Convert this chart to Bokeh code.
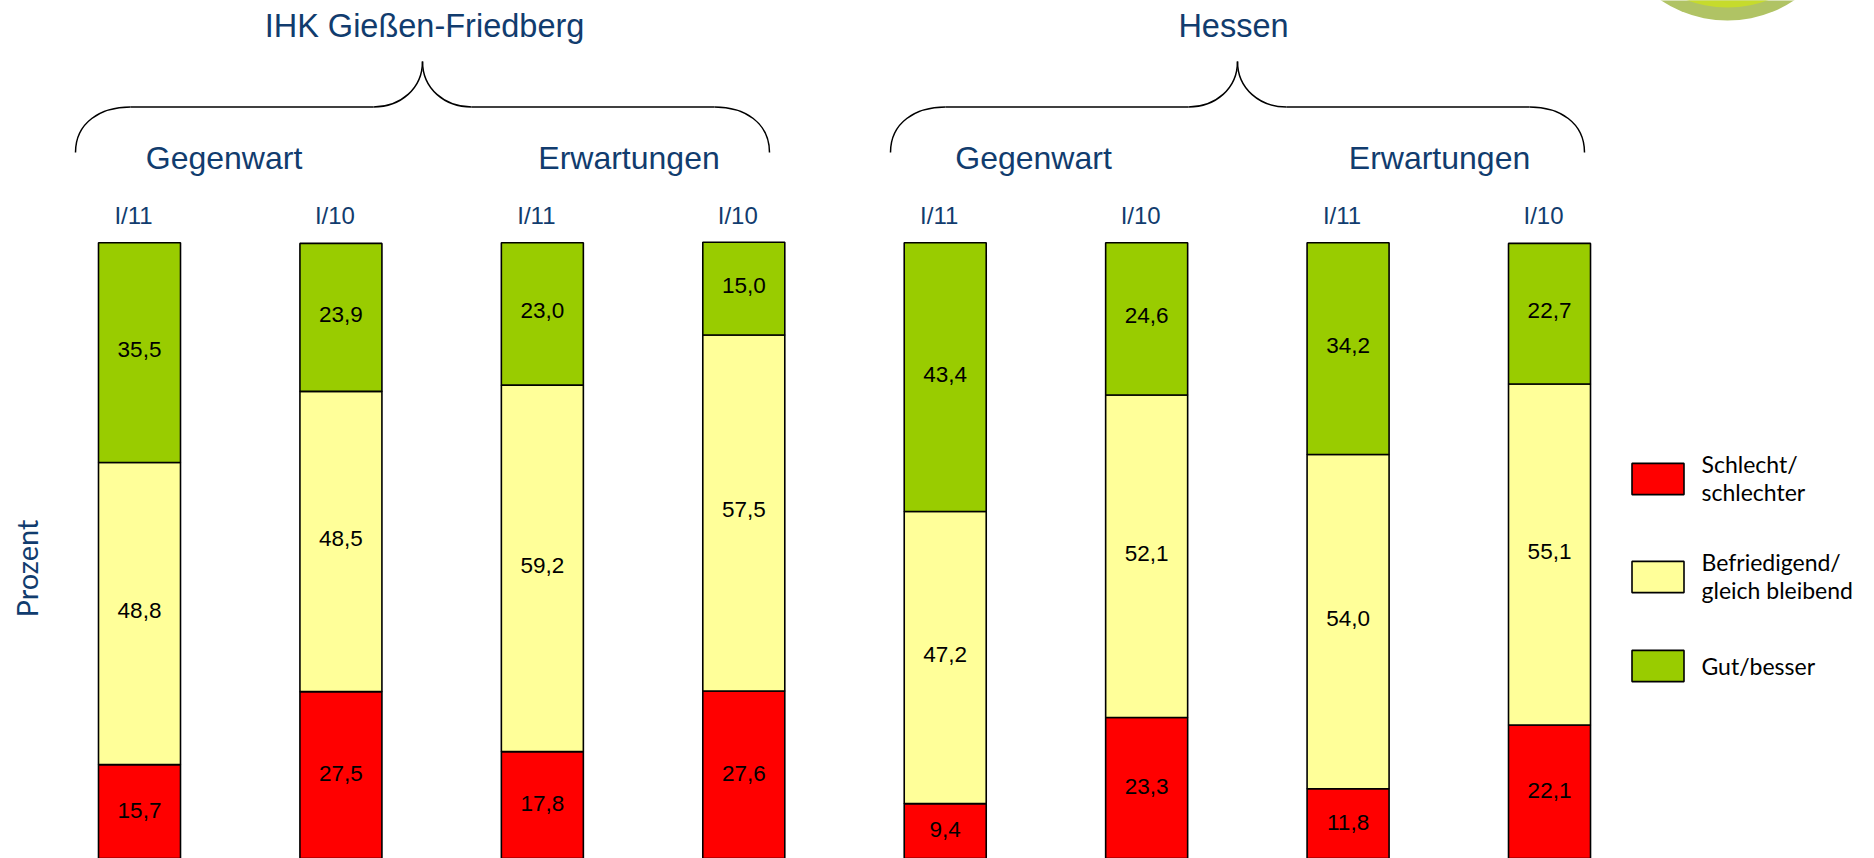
import numpy as np
from bokeh.plotting import figure
from bokeh.models import ColumnDataSource, Range1d, Legend, LegendItem
from bokeh.core.properties import value
from bokeh.embed import file_html
from bokeh.resources import INLINE

# ---------------- data ----------------
regions = ["IHK Gießen-Friedberg", "Hessen"]
aspects = ["Gegenwart", "Erwartungen"]
periods = ["I/11", "I/10", "I/11", "I/10", "I/11", "I/10", "I/11", "I/10"]
schlecht = [15.7, 27.5, 17.8, 27.6, 9.4, 23.3, 11.8, 22.1]
befriedigend = [48.8, 48.5, 59.2, 57.5, 47.2, 52.1, 54.0, 55.1]
gut = [35.5, 23.9, 23.0, 15.0, 43.4, 24.6, 34.2, 22.7]
series_labels = ["Schlecht/\nschlechter", "Befriedigend/\ngleich bleibend", "Gut/besser"]
series_colors = ["#FF0000", "#FFFF99", "#99CC00"]
axis_label = "Prozent"

# ---------------- layout ----------------
W, H = 1874, 858
PX_X = 201.43      # px per bar slot
PX_Y = 6.19        # px per percent point
X0 = 139.0         # px of first bar centre
Y0 = 861.3         # px of 0 %
BRACE_CX = [422, 1237]             # px centre of each region brace
TITLE_CX = [424, 1233]             # px centre of region titles
ASPECT_CX = [223.5, 628.5, 1033, 1439]  # px centre of aspect titles

def fx(px):  # px -> data x
    return (px - X0) / PX_X

def fy(py):  # px -> data y
    return (Y0 - py) / PX_Y

def dx(px):
    return px / PX_X

BLUE = "#113C6E"
FONT = value("Liberation Sans")

p = figure(width=W, height=H, output_backend="svg", toolbar_location=None,
           x_range=Range1d(fx(0), fx(W)), y_range=Range1d(fy(H), fy(0)),
           min_border=0, tools="")
p.xaxis.visible = False
p.yaxis.visible = False
p.grid.visible = False
p.outline_line_color = None
p.background_fill_color = "white"

# decorative green disc (top right)
p.scatter(x=[fx(1727)], y=[fy(-101)], size=242, marker="circle",
          fill_color="#B0C364", line_color=None)
p.scatter(x=[fx(1727)], y=[fy(-110)], size=234, marker="circle",
          fill_color="#C6DB2C", line_color=None)

# ---------------- bars ----------------
x = np.arange(len(schlecht), dtype=float)
s = np.array(schlecht)
b = np.array(befriedigend)
g = np.array(gut)
src = ColumnDataSource(dict(x=x, zero=np.zeros_like(s), s_top=s, b_top=s + b, g_top=s + b + g))
BW = dx(82)
r_red = p.vbar(x="x", width=BW, bottom="zero", top="s_top", source=src,
               fill_color=series_colors[0], line_color="black", line_width=1.6)
r_yel = p.vbar(x="x", width=BW, bottom="s_top", top="b_top", source=src,
               fill_color=series_colors[1], line_color="black", line_width=1.6)
r_grn = p.vbar(x="x", width=BW, bottom="b_top", top="g_top", source=src,
               fill_color=series_colors[2], line_color="black", line_width=1.6)

# value labels
lx = np.concatenate([x, x, x])
ly = np.concatenate([s / 2, s + b / 2, s + b + g / 2])
lt = [f"{v:.1f}".replace(".", ",") for v in np.concatenate([s, b, g])]
p.text(x=lx, y=ly, text=lt, text_font=FONT, text_font_size="22.5px",
       text_align="center", text_baseline="middle", text_color="black", y_offset=-3)

# period labels above bars
p.text(x=x, y=[fy(214.5)] * len(x), text=periods, text_font=FONT, text_font_size="24px",
       text_align="center", text_baseline="alphabetic", text_color=BLUE, x_offset=-6)

# aspect labels and region titles
reg_x = [fx(c) for c in BRACE_CX]
asp_t = aspects * len(regions)
p.text(x=[fx(c) for c in ASPECT_CX], y=[fy(157.8)] * len(ASPECT_CX), text=asp_t,
       text_font=FONT, text_font_size="32px",
       text_align="center", text_baseline="alphabetic", text_color=BLUE)
p.text(x=[fx(c) for c in TITLE_CX], y=[fy(25)] * len(TITLE_CX), text=regions,
       text_font=FONT, text_font_size="32.5px",
       text_align="center", text_baseline="alphabetic", text_color=BLUE)

# curly braces
yE, yM, yT = fy(152), fy(106.5), fy(61)
bz = dict(x0=[], y0=[], x1=[], y1=[], cx0=[], cy0=[], cx1=[], cy1=[])
seg = dict(x0=[], y0=[], x1=[], y1=[])
HALF = dx(347)
for c in reg_x:
    for sgn in (-1, 1):
        e = c + sgn * HALF
        bz["x0"].append(e); bz["y0"].append(yE)
        bz["cx0"].append(e); bz["cy0"].append(fy(122))
        bz["cx1"].append(e - sgn * dx(25)); bz["cy1"].append(yM)
        bz["x1"].append(e - sgn * dx(55)); bz["y1"].append(yM)
        bz["x0"].append(c + sgn * dx(49)); bz["y0"].append(yM)
        bz["cx0"].append(c + sgn * dx(22)); bz["cy0"].append(yM)
        bz["cx1"].append(c); bz["cy1"].append(fy(88))
        bz["x1"].append(c); bz["y1"].append(yT)
        seg["x0"].append(e - sgn * dx(55)); seg["y0"].append(yM)
        seg["x1"].append(c + sgn * dx(49)); seg["y1"].append(yM)
p.bezier(source=ColumnDataSource(bz), x0="x0", y0="y0", x1="x1", y1="y1",
         cx0="cx0", cy0="cy0", cx1="cx1", cy1="cy1", line_color="black", line_width=1.5)
p.segment(source=ColumnDataSource(seg), x0="x0", y0="y0", x1="x1", y1="y1",
          line_color="black", line_width=1.5)

# y label
p.text(x=[fx(26)], y=[fy(568)], text=[axis_label], angle=np.pi / 2,
       text_font=value("Lato"), text_font_size="29px", text_align="center",
       text_baseline="middle", text_color=BLUE)

# legend
legend = Legend(items=[LegendItem(label=series_labels[0], renderers=[r_red]),
                       LegendItem(label=series_labels[1], renderers=[r_yel]),
                       LegendItem(label=series_labels[2], renderers=[r_grn])],
                location=(1624.5, 173), orientation="vertical",
                glyph_width=65, glyph_height=39, label_standoff=12, spacing=42,
                padding=0, margin=0, border_line_color=None, background_fill_alpha=0,
                label_text_font="Lato", label_text_font_size="23px",
                label_text_line_height=1.35, label_text_color="black")
p.add_layout(legend, "center")

open("out.html", "w").write(file_html(p, INLINE))
